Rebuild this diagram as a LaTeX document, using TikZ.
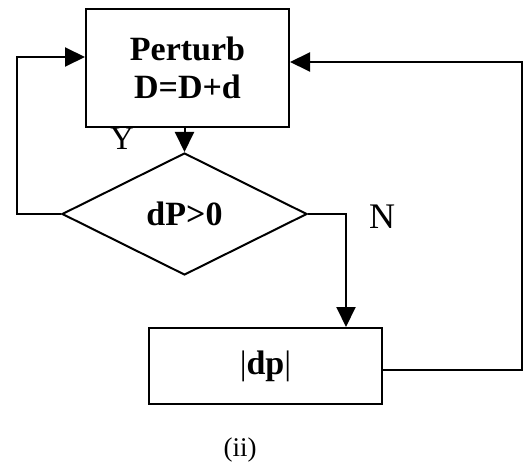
\documentclass[tikz,border=0pt]{standalone}
\usepackage{fontspec}
\setmainfont{Liberation Serif}
\usepackage{tikz}
\usetikzlibrary{shapes.geometric,arrows.meta}

\begin{document}
\begin{tikzpicture}[x=1pt,y=-1pt,line width=2pt,
		box/.style={draw,rectangle,inner sep=0pt,align=center,font=\fontsize{34}{38}\selectfont\bfseries},
		decision/.style={draw,diamond,inner sep=0pt,font=\fontsize{34}{38}\selectfont\bfseries},
		arr/.style={-{Triangle[length=20pt,width=19pt]}},
		lbl/.style={inner sep=0pt,font=\fontsize{#1}{#1}\selectfont}]
			\useasboundingbox (0,0) rectangle (525,468);
			% blocks
			\node[box,minimum width=203pt,minimum height=118pt] (perturb) at (187.5,68) {Perturb\\D=D+d};
			\node[decision,minimum width=245pt,minimum height=122pt] (dec) at (184.5,214) {dP>0};
			\node[box,minimum width=233pt,minimum height=76pt] (dp) at (265.5,366) {{\mdseries|}dp{\mdseries|}};
			% labels
			\node[lbl=33] (yes) at (122,139) {Y};
			\node[lbl=36] (no) at (382,217) {N};
			\node[lbl=27] (cap) at (240,450) {(ii)};
			% turning points
			\coordinate (lft) at (17,57);
			\coordinate (nturn) at (346,214);
			\coordinate (rgt) at (522,62);
			% connectors
			\draw[arr] (perturb.south -| dec.north) -- (dec.north);
			\draw[arr] (dec.west) -| (lft) -- (lft -| perturb.west);
			\draw[arr] (dec.east) -- (nturn) -- (nturn |- dp.north);
			\draw[arr] ([yshift=-4pt]dp.east) -| (rgt) -- (rgt -| perturb.east);
	\end{tikzpicture}
\end{document}
